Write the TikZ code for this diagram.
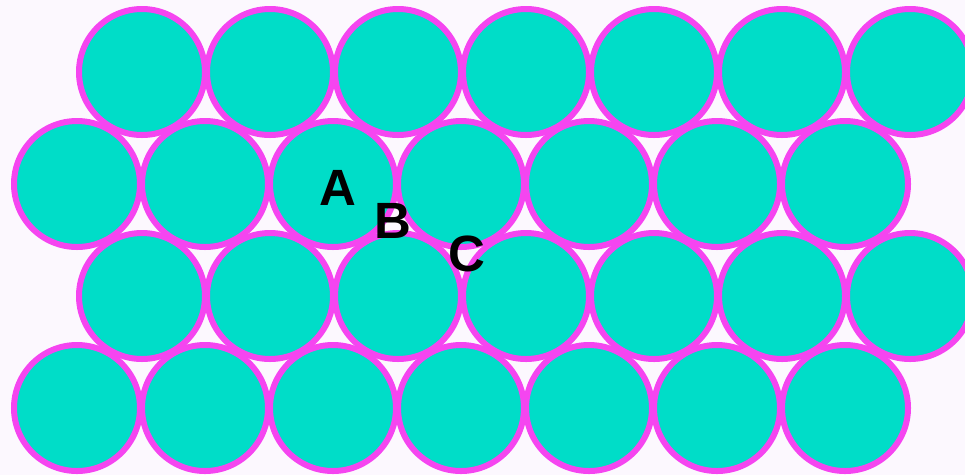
\documentclass[tikz,border=0pt]{standalone}
\usepackage{fontspec}
\setmainfont{Liberation Sans}
\usepackage{xcolor}
\usetikzlibrary{positioning}
\definecolor{bgpale}{HTML}{FCF8FE}
\definecolor{ballfill}{HTML}{00DDC8}
\definecolor{ballrim}{HTML}{F545F0}

\begin{document}
\begin{tikzpicture}[
    x=1pt, y=-1pt,
    ball/.style={circle, draw=ballrim, fill=ballfill, line width=6pt, minimum size=126pt, inner sep=0pt},
    site/.style={font=\fontsize{51}{51}\selectfont\bfseries, text=black, inner sep=0pt}
]
\fill[bgpale] (0,0) rectangle (965,475);
\useasboundingbox (0,0) rectangle (965,475);
% rows 1 and 3
\foreach \r/\y in {1/72, 3/296}
  \foreach \k in {0,...,6}
    \node[ball] (b\r\k) at ({142+128*\k},\y) {};
% rows 2 and 4
\foreach \r/\y in {2/184, 4/408}
  \foreach \k in {0,...,6}
    \node[ball] (b\r\k) at ({77+128*\k},\y) {};
% labels
\node[site] (sA) at (338,188) {A};
\node[site] (sB) at (393,221) {B};
\node[site] (sC) at (467,254) {C};
\end{tikzpicture}
\end{document}
